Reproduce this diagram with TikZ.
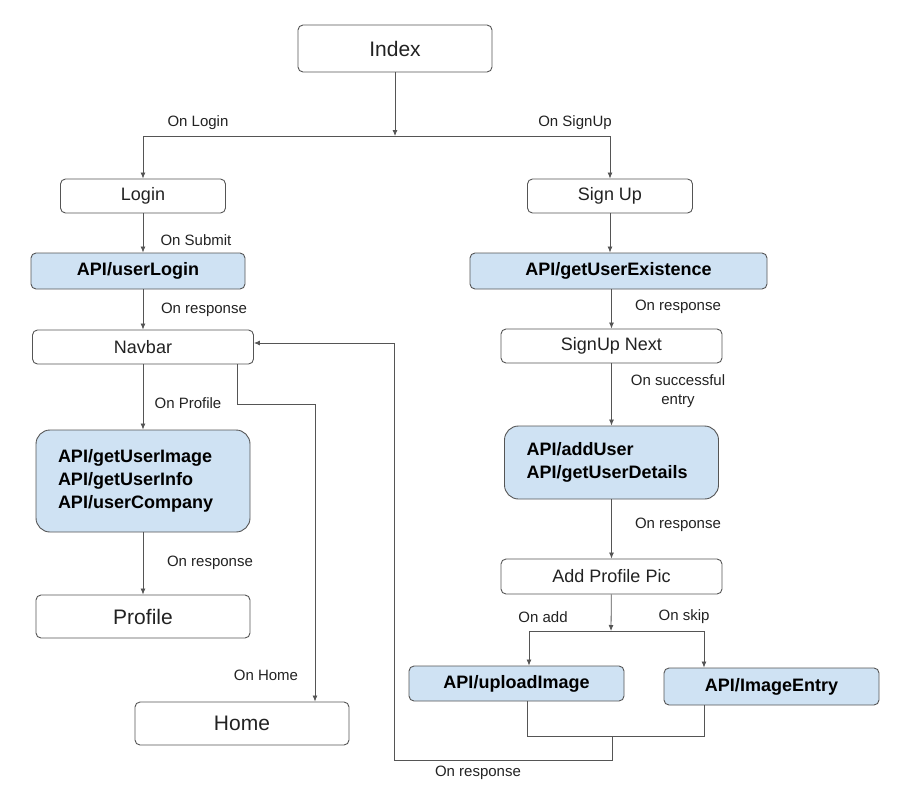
\documentclass[tikz,border=0pt]{standalone}
\usepackage{fontspec}
\setmainfont{Liberation Sans}
\usetikzlibrary{arrows.meta}
\definecolor{linegray}{HTML}{555555}
\definecolor{txt}{HTML}{222222}
\definecolor{apiblue}{HTML}{CFE2F3}
\tikzset{
  box/.style={draw=linegray, line width=0.9pt, rounded corners=5pt, fill=white, inner sep=0pt, text=txt, font=\fontsize{18}{22}\selectfont},
  bigbox/.style={box, font=\fontsize{21}{25}\selectfont},
  apibox/.style={box, fill=apiblue, text=black, font=\fontsize{18}{22}\selectfont\bfseries},
  apiblock/.style={apibox, rounded corners=14pt, align=left, text width=170pt, inner xsep=22pt, font=\fontsize{18}{23}\selectfont\bfseries},
  lbl/.style={text=txt, inner sep=0pt, font=\fontsize{15}{19}\selectfont},
  arr/.style={draw=linegray, line width=0.8pt, -{Latex[length=6pt,width=5pt]}},
  link/.style={draw=linegray, line width=0.8pt},
}
\begin{document}
\begin{tikzpicture}[x=1pt, y=-1pt]
    \useasboundingbox (0,0) rectangle (901,811);

    % Блоки
    \node[bigbox, minimum width=194, minimum height=47] (index) at (395,48.5) {Index};
    \node[box, minimum width=165, minimum height=34] (login) at (143,196) {Login};
    \node[box, minimum width=165, minimum height=34] (signup) at (610,196) {Sign Up};
    \node[apibox, minimum width=214, minimum height=36] (ulogin) at (138,271) {API/userLogin};
    \node[apibox, minimum width=297, minimum height=36] (exist) at (618.5,271) {API/getUserExistence};
    \node[box, minimum width=221, minimum height=34] (navbar) at (143,347) {Navbar};
    \node[apiblock, minimum height=102] (profapi) at (143,481) {API/getUserImage\\API/getUserInfo\\API/userCompany};
    \node[bigbox, minimum width=214, minimum height=43] (profile) at (143,616.5) {Profile};
    \node[bigbox, minimum width=214, minimum height=43] (home) at (242,723.5) {Home};
    \node[box, minimum width=221, minimum height=34] (next) at (611.5,346) {SignUp Next};
    \node[apiblock, minimum height=73] (addapi) at (611.5,462.5) {API/addUser\\API/getUserDetails};
    \node[box, minimum width=221, minimum height=35] (pic) at (611.5,576.5) {Add Profile Pic};
    \node[apibox, minimum width=215, minimum height=35] (upload) at (516.5,683.5) {API/uploadImage};
    \node[apibox, minimum width=215, minimum height=37] (imgentry) at (771.5,686.5) {API/ImageEntry};

    % Развилки
    \coordinate (split) at (395,136);
    \coordinate (fork) at (611,631);
    \coordinate (merge) at (612,736);
    \coordinate (back) at (394,760);

    % Стрелки
    \draw[arr] (index) -- (split);
    \draw[arr] (split) -| (login);
    \draw[arr] (split) -| (signup);
    \draw[arr] (login.south) -- (login.south |- ulogin.north);
    \draw[arr] (signup.south) -- (signup.south |- exist.north);
    \draw[arr] (navbar.north |- ulogin.south) -- (navbar.north);
    \draw[arr] (navbar) -- (profapi);
    \draw[arr] (profapi) -- (profile);
    \draw[arr] ([xshift=94]navbar.south) -- ++(0,40) -| ([xshift=73]home.north);
    \draw[arr] (exist.south -| next.north) -- (next.north);
    \draw[arr] (next) -- (addapi);
    \draw[arr] (addapi) -- (pic);
    \draw[arr] (pic) -- (fork);
    \draw[arr] (fork) -| ([xshift=12.5]upload.north);
    \draw[arr] (fork) -| ([xshift=-67.5]imgentry.north);
    \draw[link] ([xshift=10.5]upload.south) |- (merge);
    \draw[link] ([xshift=-67.5]imgentry.south) |- (merge);
    \draw[arr] (merge) |- (back) |- ([yshift=4]navbar.east);

    % Подписи
    \node[lbl] (lblogin) at (198,123) {On Login};
    \node[lbl] (lbsignup) at (575,123) {On SignUp};
    \node[lbl] (lbsubmit) at (196,240) {On Submit};
    \node[lbl] (lbresp1) at (204,310) {On response};
    \node[lbl] (lbprofile) at (188,403) {On Profile};
    \node[lbl] (lbresp2) at (210,563) {On response};
    \node[lbl] (lbhome) at (266,675) {On Home};
    \node[lbl] (lbresp3) at (678,307) {On response};
    \node[lbl, align=center] (lbentry) at (678,391) {On successful\\entry};
    \node[lbl] (lbresp4) at (678,525) {On response};
    \node[lbl] (lbadd) at (543,617) {On add};
    \node[lbl] (lbskip) at (684,617) {On skip};
    \node[lbl] (lbresp5) at (478,773) {On response};
\end{tikzpicture}
\end{document}
